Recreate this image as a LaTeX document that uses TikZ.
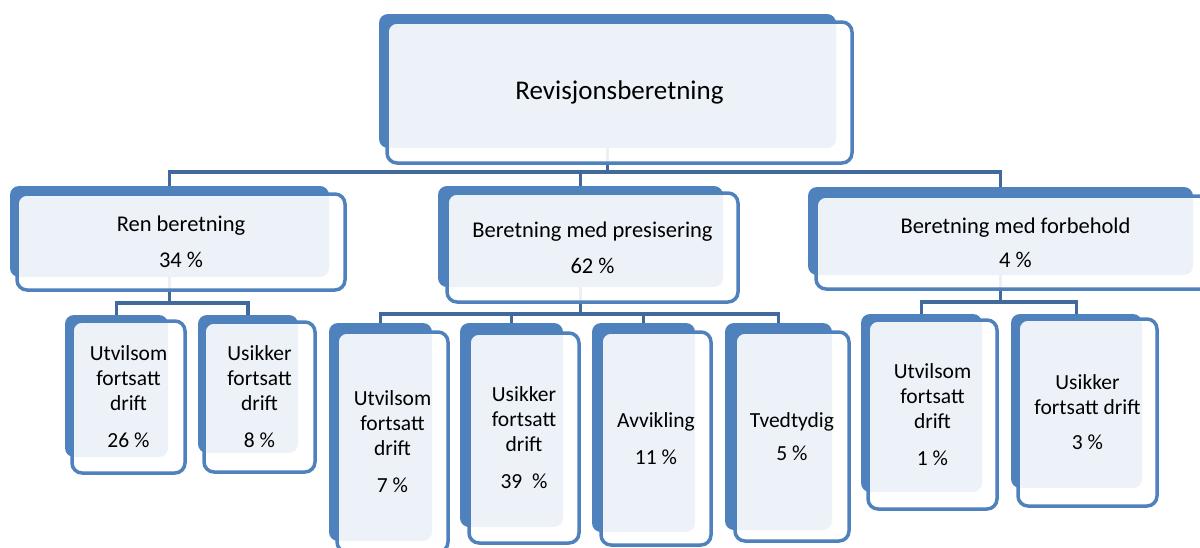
\documentclass[tikz,border=0pt]{standalone}
\usepackage{fontspec}
\setmainfont{Carlito}
\usetikzlibrary{fit}
\definecolor{bblue}{HTML}{4F81BD}
\definecolor{cblue}{HTML}{41699B}
\tikzset{
  backbox/.style={rectangle, fill=bblue, draw=none, rounded corners=9pt, inner sep=0pt},
  frontbox/.style={rectangle, draw=bblue, line width=3.5pt, fill=white, fill opacity=0.9,
    text opacity=1, rounded corners=10pt, inner sep=0pt, align=center, text=black},
  conn/.style={draw=cblue, line width=3.5pt},
  tbig/.style={font=\fontsize{27pt}{32pt}\selectfont},
  tmid/.style={font=\fontsize{22.5pt}{26pt}\selectfont},
  tsmall/.style={font=\fontsize{21.5pt}{25pt}\selectfont},
  wh/.style n args={2}{minimum width=#1pt, minimum height=#2pt},
}
\begin{document}
\begin{tikzpicture}[x=1pt,y=-1pt]
\useasboundingbox (0,0) rectangle (1200,547);
\clip (0,0) rectangle (1200,547);
% back shapes
\node[backbox, fit={(379,14)(836,148)}] (topb) {};
\node[backbox, fit={(10,186)(329,277)}] (renb) {};
\node[backbox, fit={(438,186)(723,287)}] (presb) {};
\node[backbox, fit={(808,187)(1193,275)}] (forbb) {};
\node[backbox, fit={(65,315)(168,457)}] (l1b) {};
\node[backbox, fit={(198,315)(298,453)}] (l2b) {};
\node[backbox, fit={(329,323)(432,541)}] (m1b) {};
\node[backbox, fit={(460,323)(563,527)}] (m2b) {};
\node[backbox, fit={(592,323)(695,532)}] (m3b) {};
\node[backbox, fit={(725,323)(832,530)}] (m4b) {};
\node[backbox, fit={(861,314)(982,492)}] (r1b) {};
\node[backbox, fit={(1011,314)(1142,488)}] (r2b) {};
% connector levels
\coordinate (bus1) at (0,172);
\coordinate (bus2) at (0,303);
\coordinate (bus3) at (0,314);
\coordinate (bus4) at (0,302);
\draw[conn] (topb.south) -- (topb.south |- bus1) -| (renb.north);
\draw[conn] (topb.south |- bus1) -| (presb.north);
\draw[conn] (topb.south |- bus1) -| (forbb.north);
\draw[conn] (renb.south) -- (renb.south |- bus2) -| (l1b.north);
\draw[conn] (renb.south |- bus2) -| (l2b.north);
\draw[conn] (presb.south) -- (presb.south |- bus3) -| (m1b.north);
\draw[conn] (presb.south |- bus3) -| (m2b.north);
\draw[conn] (presb.south |- bus3) -| (m3b.north);
\draw[conn] (presb.south |- bus3) -| (m4b.north);
\draw[conn] (forbb.south) -- (forbb.south |- bus4) -| (r1b.north);
\draw[conn] (forbb.south |- bus4) -| (r2b.north);
% front shapes with text
\node[frontbox, tbig, wh={465}{141}] (top) at (619.5,92.5) {Revisjonsberetning};
\node[frontbox, tmid, wh={328}{96}] (ren) at (181,242) {Ren beretning\\[10pt]34 \%};
\node[frontbox, tmid, wh={291}{109}] (pres) at (592.5,247.5) {Beretning med presisering\\[10pt]62 \%};
\node[frontbox, tmid, wh={399}{93}] (forb) at (1015.5,242.5) {Beretning med forbehold\\[8pt]4 \%};
\node[frontbox, tsmall, wh={113}{152}] (l1) at (128.5,397) {Utvilsom\\fortsatt\\drift\\[12pt]26 \%};
\node[frontbox, tsmall, wh={111}{150}] (l2) at (259.5,397) {Usikker\\fortsatt\\drift\\[12pt]8 \%};
\node[frontbox, tsmall, wh={111}{220}] (m1) at (392.5,442) {Utvilsom\\fortsatt\\drift\\[12pt]7 \%};
\node[frontbox, tsmall, wh={110}{210}] (m2) at (524,438) {Usikker\\fortsatt\\drift\\[12pt]39~~\%};
\node[frontbox, tsmall, wh={110}{213}] (m3) at (656,438.5) {Avvikling\\[12pt]11 \%};
\node[frontbox, tsmall, wh={114}{209}] (m4) at (792,436.5) {Tvedtydig\\[8pt]5 \%};
\node[frontbox, tsmall, wh={129}{189}] (r1) at (932.5,414.5) {Utvilsom\\fortsatt\\drift\\[12pt]1 \%};
\node[frontbox, tsmall, wh={139}{187}] (r2) at (1087.5,412.5) {Usikker\\fortsatt drift\\[10pt]3 \%};
\end{tikzpicture}
\end{document}
